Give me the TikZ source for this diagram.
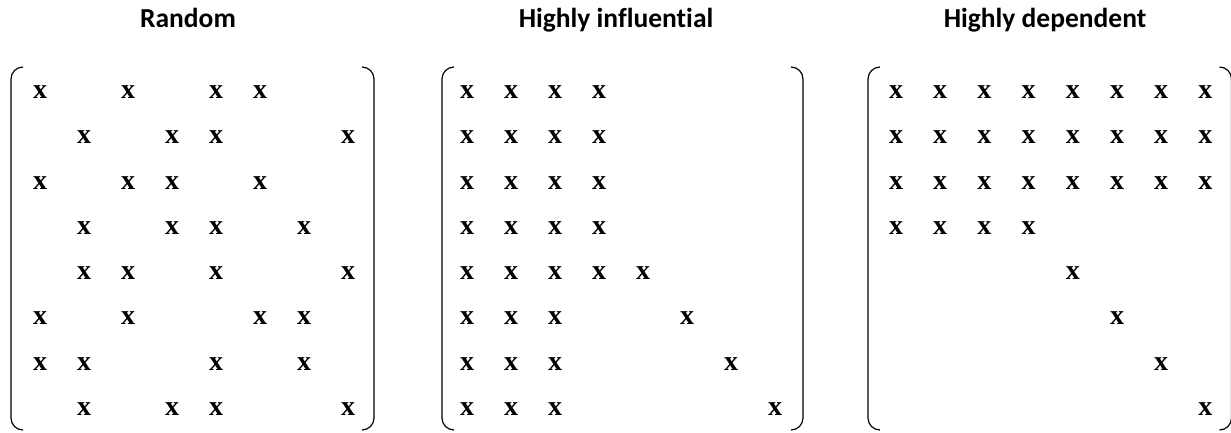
\documentclass[tikz,border=0pt]{standalone}
\usepackage{fontspec}
\setmainfont[Ligatures=NoCommon]{Carlito}
\newfontfamily\monox{Liberation Serif}
\begin{document}
\begin{tikzpicture}[x=1pt,y=-1pt,
  title/.style={font=\fontsize{27.5}{30}\selectfont\bfseries, anchor=base},
  entry/.style={font=\monox\bfseries\fontsize{28}{30}\selectfont, inner sep=0pt},
  bracket/.style={line width=1.2pt, rounded corners=12pt}]
\useasboundingbox (0,0) rectangle (1231,432);
% titles
\node[title] (t1) at (188,27) {Random};
\node[title] (t2) at (616,27) {Highly influential};
\node[title] (t3) at (1045,27) {Highly dependent};
% brackets
\foreach \L/\R in {11/374, 442/803, 868/1231.5}{
  \draw[bracket] (\L+12,67) -- (\L,67) -- (\L,430) -- (\L+12,430);
  \draw[bracket] (\R-12,67) -- (\R,67) -- (\R,430) -- (\R-12,430);
}
% matrix 1: random
\foreach \r/\cols in {1/{1,3,5,6}, 2/{2,4,5,8}, 3/{1,3,4,6}, 4/{2,4,5,7},
                      5/{2,3,5,8}, 6/{1,3,6,7}, 7/{1,2,5,7}, 8/{2,4,5,8}}{
  \foreach \c in \cols{
    \node[entry] (a-\r-\c) at ({40+44*(\c-1)},{92+45.3*(\r-1)}) {x};
  }
}
% matrix 2: highly influential
\foreach \r/\cols in {1/{1,2,3,4}, 2/{1,2,3,4}, 3/{1,2,3,4}, 4/{1,2,3,4},
                      5/{1,2,3,4,5}, 6/{1,2,3,6}, 7/{1,2,3,7}, 8/{1,2,3,8}}{
  \foreach \c in \cols{
    \node[entry] (b-\r-\c) at ({467+44*(\c-1)},{92+45.3*(\r-1)}) {x};
  }
}
% matrix 3: highly dependent
\foreach \r/\cols in {1/{1,2,3,4,5,6,7,8}, 2/{1,2,3,4,5,6,7,8}, 3/{1,2,3,4,5,6,7,8},
                      4/{1,2,3,4}, 5/{5}, 6/{6}, 7/{7}, 8/{8}}{
  \foreach \c in \cols{
    \node[entry] (c-\r-\c) at ({896+44.2*(\c-1)},{92+45.3*(\r-1)}) {x};
  }
}
\end{tikzpicture}
\end{document}
